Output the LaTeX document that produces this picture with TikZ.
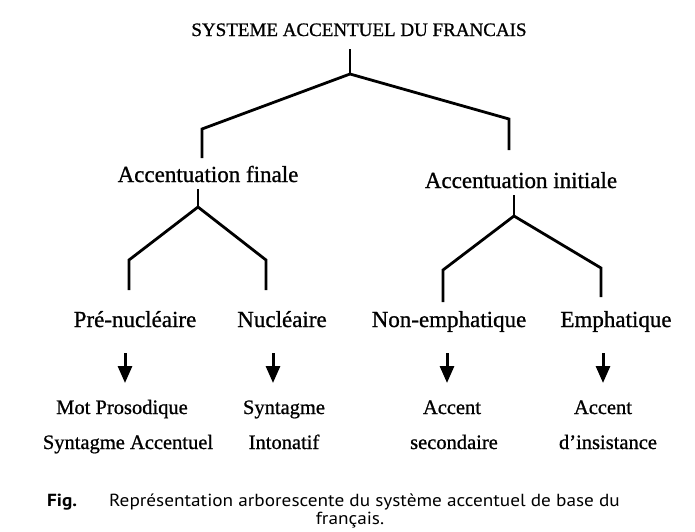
\documentclass[tikz,border=0pt]{standalone}
\usepackage{fontspec}
\setmainfont[FakeBold=0.9]{Liberation Serif}
\newfontfamily\capfont[FakeStretch=1.1]{PT Sans}
\usetikzlibrary{arrows.meta}
\tikzset{
  treeline/.style={line width=2.8pt, line cap=butt, line join=miter},
  downarrow/.style={line width=3pt, -{Triangle[width=14pt,length=17pt]}},
  lbl/.style={inner sep=0pt, anchor=base},
  ttl/.style={lbl, font=\fontsize{19}{22}\selectfont},
  lvtwo/.style={lbl, font=\fontsize{23}{26}\selectfont},
  lvthree/.style={lbl, font=\fontsize{23}{26}\selectfont},
  leaf/.style={lbl, font=\fontsize{20.5}{24}\selectfont},
  captxt/.style={lbl, font=\capfont\fontsize{17.5}{20}\selectfont}
}
\begin{document}
\begin{tikzpicture}[x=1pt,y=-1pt]
\useasboundingbox (0,0) rectangle (695,531);
% texts
\node[ttl] (root) at (359,36) {SYSTEME ACCENTUEL DU FRANCAIS};
\node[lvtwo] (fin) at (208,182) {Accentuation finale};
\node[lvtwo] (ini) at (521,188) {Accentuation initiale};
\node[lvthree] (pre) at (135,327) {Pré-nucléaire};
\node[lvthree] (nuc) at (282,327) {Nucléaire};
\node[lvthree] (non) at (449,327) {Non-emphatique};
\node[lvthree] (emp) at (616,327) {Emphatique};
\node[leaf] (mot) at (122,414) {Mot Prosodique};
\node[leaf] (sa) at (128,449) {Syntagme Accentuel};
\node[leaf] (syn) at (284,414) {Syntagme};
\node[leaf] (int) at (284,449) {Intonatif};
\node[leaf] (ac1) at (452,414) {Accent};
\node[leaf] (sec) at (454,449) {secondaire};
\node[leaf] (ac2) at (603,414) {Accent};
\node[leaf] (ins) at (608,449) {d’insistance};
\node[captxt, anchor=base west] (fig) at (47,506) {\bfseries Fig.};
\node[captxt, anchor=base west] (capa) at (109,506) {Représentation arborescente du système accentuel de base du};
\node[captxt] (capb) at (350,524) {français.};
% tree coordinates
\coordinate (r0) at (350,49);
\coordinate (r1) at (350,74);
\coordinate (rl) at (202,129);
\coordinate (rl2) at (202,158);
\coordinate (rr) at (509,119);
\coordinate (rr2) at (509,150);
\coordinate (f0) at (198,189);
\coordinate (f1) at (198,207);
\coordinate (fl) at (129,260);
\coordinate (fl2) at (129,290);
\coordinate (fr) at (266,260);
\coordinate (fr2) at (266,290);
\coordinate (i0) at (514,195);
\coordinate (i1) at (514,216);
\coordinate (il) at (443,270);
\coordinate (il2) at (443,302);
\coordinate (ir) at (601,268);
\coordinate (ir2) at (601,297);
\draw[treeline] (r0) -- (r1);
\draw[treeline] (rl2) -- (rl) -- (r1) -- (rr) -- (rr2);
\draw[treeline] (f0) -- (f1);
\draw[treeline] (fl2) -- (fl) -- (f1) -- (fr) -- (fr2);
\draw[treeline] (i0) -- (i1);
\draw[treeline] (il2) -- (il) -- (i1) -- (ir) -- (ir2);
% arrows
\coordinate (a1s) at (125,353); \coordinate (a1e) at (125,383);
\coordinate (a2s) at (273,353); \coordinate (a2e) at (273,383);
\coordinate (a3s) at (447,353); \coordinate (a3e) at (447,383);
\coordinate (a4s) at (603,353); \coordinate (a4e) at (603,383);
\draw[downarrow] (a1s) -- (a1e);
\draw[downarrow] (a2s) -- (a2e);
\draw[downarrow] (a3s) -- (a3e);
\draw[downarrow] (a4s) -- (a4e);
\end{tikzpicture}
\end{document}
